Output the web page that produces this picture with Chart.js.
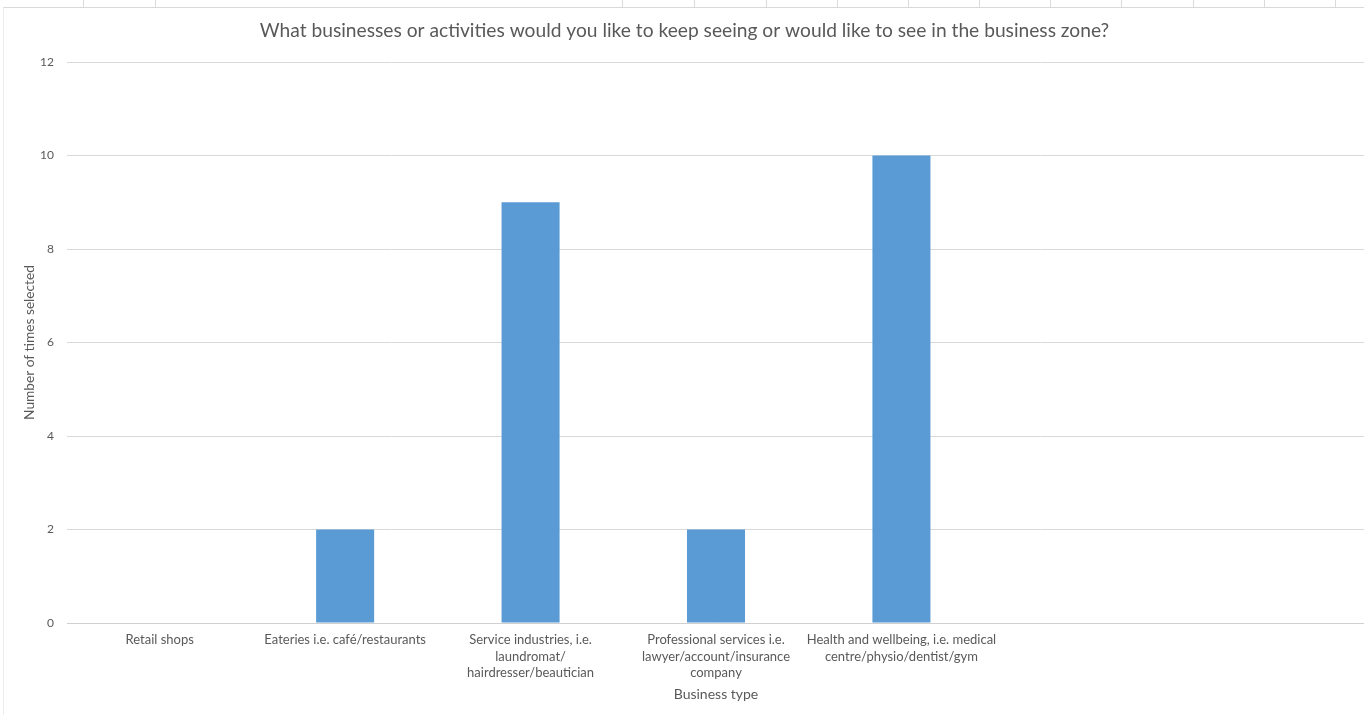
<!DOCTYPE html>
<html lang="en">
<head>
    <meta charset="UTF-8">
    <title>Business zone survey</title>
    <style>
        * {
            margin: 0;
            padding: 0;
            box-sizing: border-box;
        }

        body {
            background: #fff;
            width: 1364px;
            height: 715px;
            overflow: hidden;
            position: relative;
            font-family: Lato, 'Open Sans', sans-serif;
        }

        /* spreadsheet cell row peeking out above the chart */
        .cells {
            position: absolute;
            left: 0;
            top: 0;
            width: 1364px;
            height: 7px;
        }

        .cells span {
            position: absolute;
            top: 0;
            width: 1px;
            height: 7px;
            background: #dadada;
        }

        .chart-box {
            position: absolute;
            left: 3px;
            top: 7px;
            width: 1372px;
            height: 708px;
            border-top: 1px solid #d9d9d9;
            border-left: 1px solid #ececec;
        }
    </style>
    <script src="https://cdn.jsdelivr.net/npm/chart.js"></script>
</head>
<body>
    <div class="cells" id="cells"></div>
    <div class="chart-box">
        <canvas id="zoneChart"></canvas>
    </div>

    <script>
        // Survey answers
        const categories = [
            'Retail shops',
            'Eateries i.e. café/restaurants',
            ['Service industries, i.e.', 'laundromat/', 'hairdresser/beautician'],
            ['Professional services i.e.', 'lawyer/account/insurance', 'company'],
            ['Health and wellbeing, i.e. medical', 'centre/physio/dentist/gym'],
            '',
            ''
        ];
        const timesSelected = [0, 2, 9, 2, 10, null, null];

        const yMin = 0;
        const yMax = 12;
        const yStep = 2;

        const chartTitle = 'What businesses or activities would you like to keep seeing or would like to see in the business zone?';
        const xTitle = 'Business type';
        const yTitle = 'Number of times selected';

        // column borders of the sheet behind the chart
        const cellEdges = [83, 155, 622, 694, 766, 837, 908, 979, 1050, 1121, 1193, 1264, 1335];
        const cells = document.getElementById('cells');
        cellEdges.forEach(x => {
            const s = document.createElement('span');
            s.style.left = x + 'px';
            cells.appendChild(s);
        });

        const textGrey = '#595959';
        const gridGrey = '#d9d9d9';

        new Chart(document.getElementById('zoneChart'), {
            type: 'bar',
            data: {
                labels: categories,
                datasets: [{
                    label: 'Number of times selected',
                    data: timesSelected,
                    backgroundColor: '#5b9bd5',
                    borderWidth: 0,
                    categoryPercentage: 1,
                    barPercentage: 0.313
                }]
            },
            options: {
                responsive: true,
                maintainAspectRatio: false,
                animation: false,
                layout: {
                    padding: { left: 0, right: 10, top: 0, bottom: 0 }
                },
                plugins: {
                    legend: { display: false },
                    tooltip: { enabled: false },
                    title: {
                        display: true,
                        text: chartTitle,
                        color: textGrey,
                        font: { family: 'Lato', size: 19.2, weight: 'normal' },
                        padding: { top: 11, bottom: 20 }
                    }
                },
                scales: {
                    x: {
                        grid: { display: false },
                        border: { display: true, color: '#d0d0d0' },
                        ticks: {
                            color: textGrey,
                            font: { family: 'Lato', size: 13, lineHeight: 1.27 },
                            padding: 1,
                            maxRotation: 0,
                            autoSkip: false
                        },
                        title: {
                            display: true,
                            text: xTitle,
                            color: textGrey,
                            font: { family: 'Lato', size: 14 },
                            padding: { top: 0, bottom: 12 }
                        },
                        afterFit: scale => { scale.height = 92; }
                    },
                    y: {
                        min: yMin,
                        max: yMax,
                        grid: { color: gridGrey, drawTicks: false },
                        border: { display: false },
                        ticks: {
                            stepSize: yStep,
                            color: textGrey,
                            font: { family: 'Lato', size: 12 },
                            padding: 13
                        },
                        title: {
                            display: true,
                            text: yTitle,
                            color: textGrey,
                            font: { family: 'Lato', size: 13.7 },
                            padding: { top: 17, bottom: 0 }
                        },
                        afterFit: scale => { scale.width = 63; }
                    }
                }
            }
        });
    </script>
</body>
</html>
